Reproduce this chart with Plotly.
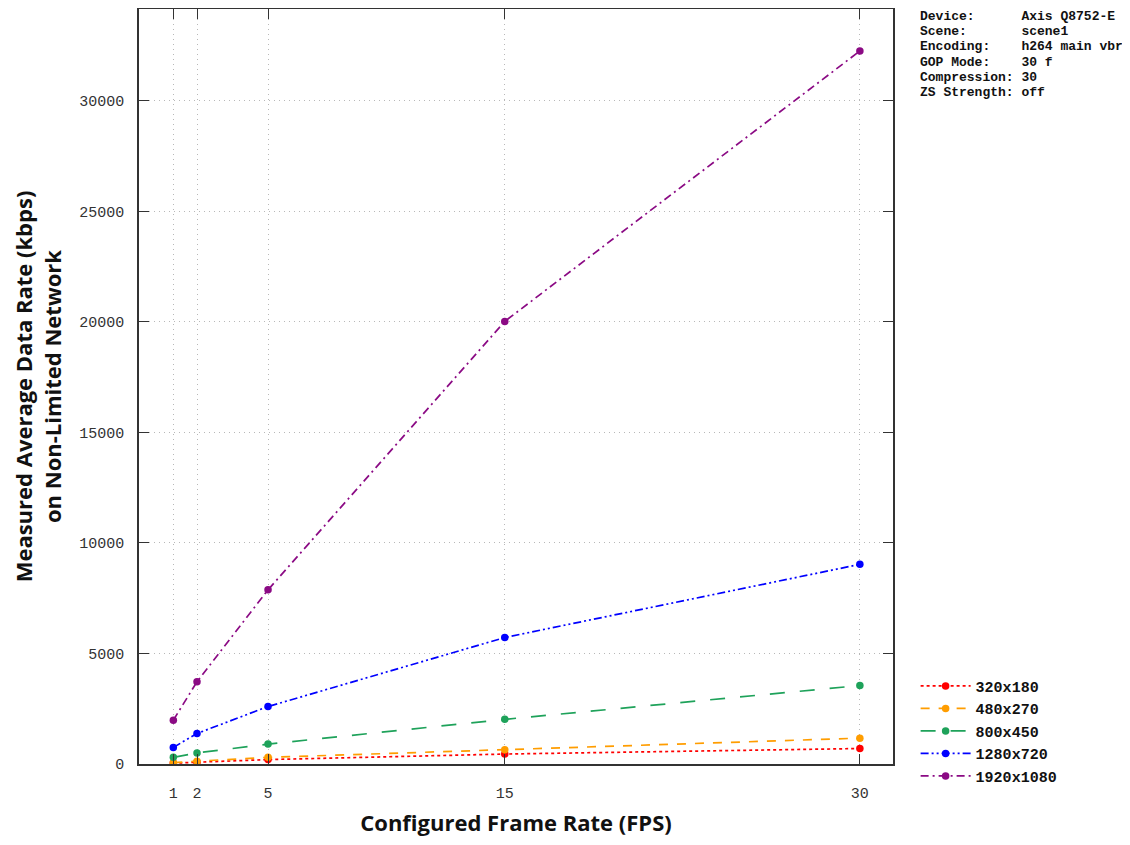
import plotly.graph_objects as go

fps = [1, 2, 5, 15, 30]
resolutions = ["320x180", "480x270", "800x450", "1280x720", "1920x1080"]
rate_320x180 = [40, 80, 200, 450, 700]
rate_480x270 = [60, 130, 300, 650, 1170]
rate_800x450 = [300, 500, 900, 2020, 3550]
rate_1280x720 = [750, 1380, 2600, 5720, 9030]
rate_1920x1080 = [1980, 3720, 7880, 20020, 32250]
series = [rate_320x180, rate_480x270, rate_800x450, rate_1280x720, rate_1920x1080]

colors = ["#ff0000", "#ff9d00", "#1ea25a", "#0000ff", "#8b0a84"]
dashes = ["dot", "dash", "longdash", "8px,3px,2px,3px,2px,3px", "8px,4px,2px,4px"]

x_ticks = [1, 2, 5, 15, 30]
y_ticks = [0, 5000, 10000, 15000, 20000, 25000, 30000]

info_lines = [
    ("Device:", "Axis Q8752-E"),
    ("Scene:", "scene1"),
    ("Encoding:", "h264 main vbr"),
    ("GOP Mode:", "30 f"),
    ("Compression:", "30"),
    ("ZS Strength:", "off"),
]

# page has an 8px body margin; compensate
OFF = 8
W, H = 1130 - OFF, 845 - OFF
l, t = 139 - OFF, 1
plot_right, plot_bottom = 893 - OFF, 764 - OFF
r, b = W - plot_right, H - plot_bottom
pw, ph = W - l - r, H - t - b

fig = go.Figure()
for name, vals, c, d in zip(resolutions, series, colors, dashes):
    fig.add_trace(go.Scatter(
        x=fps, y=vals, name=name, mode="lines+markers",
        line=dict(color=c, width=1.7, dash=d),
        marker=dict(color=c, size=7.5, symbol="circle"),
    ))

mono = "Liberation Mono, Courier New, monospace"
title_font = dict(family="Open Sans, Lato, sans-serif", size=22, color="#111111", weight="bold")

for i, (k, v) in enumerate(info_lines):
    line_text = k + "\u00a0" * (13 - len(k)) + v
    y_px = 17 + 15 * i  # page pixel centre of this line
    fig.add_annotation(
        x=(918 - OFF - l) / pw, y=1 - (y_px - OFF - t) / ph, xref="paper", yref="paper",
        text=line_text, showarrow=False, align="left", xanchor="left", yanchor="middle",
        font=dict(family=mono, size=13, color="#111111", weight="bold"),
    )

fig.update_layout(
    width=W, height=H,
    margin=dict(l=l, r=r, t=t, b=b, pad=0, autoexpand=False),
    plot_bgcolor="white", paper_bgcolor="white",
    showlegend=True,
    legend=dict(
        x=1.03, y=0.125, xanchor="left", yanchor="top",
        font=dict(family=mono, size=15, color="#111111", weight="bold"),
        bgcolor="rgba(0,0,0,0)", tracegroupgap=0, itemwidth=50,
        traceorder="normal",
    ),
    xaxis=dict(
        range=[-0.45, 31.4], tickvals=x_ticks, ticktext=[str(v) for v in x_ticks],
        showgrid=True, gridcolor="#b8b8b8", griddash="1px,4px", gridwidth=1,
        showline=True, linecolor="#333333", linewidth=1.5, mirror="allticks",
        ticks="inside", ticklen=10, tickcolor="#333333", tickwidth=1.2,
        tickfont=dict(family=mono, size=15, color="#333333"),
        ticklabelstandoff=14, zeroline=False,
        title=dict(text="Configured Frame Rate (FPS)", standoff=14, font=title_font),
    ),
    yaxis=dict(
        range=[0, 34150], tickvals=y_ticks, ticktext=[str(v) for v in y_ticks],
        showgrid=True, gridcolor="#b8b8b8", griddash="1px,4px", gridwidth=1,
        showline=True, linecolor="#333333", linewidth=1.5, mirror="allticks",
        ticks="inside", ticklen=10, tickcolor="#333333", tickwidth=1.2,
        tickfont=dict(family=mono, size=15, color="#333333"),
        ticklabelstandoff=10, zeroline=False,
        title=dict(text="Measured Average Data Rate (kbps)<br>on Non-Limited Network", standoff=14,
                   font=title_font),
    ),
)

fig.write_html("out.html")
